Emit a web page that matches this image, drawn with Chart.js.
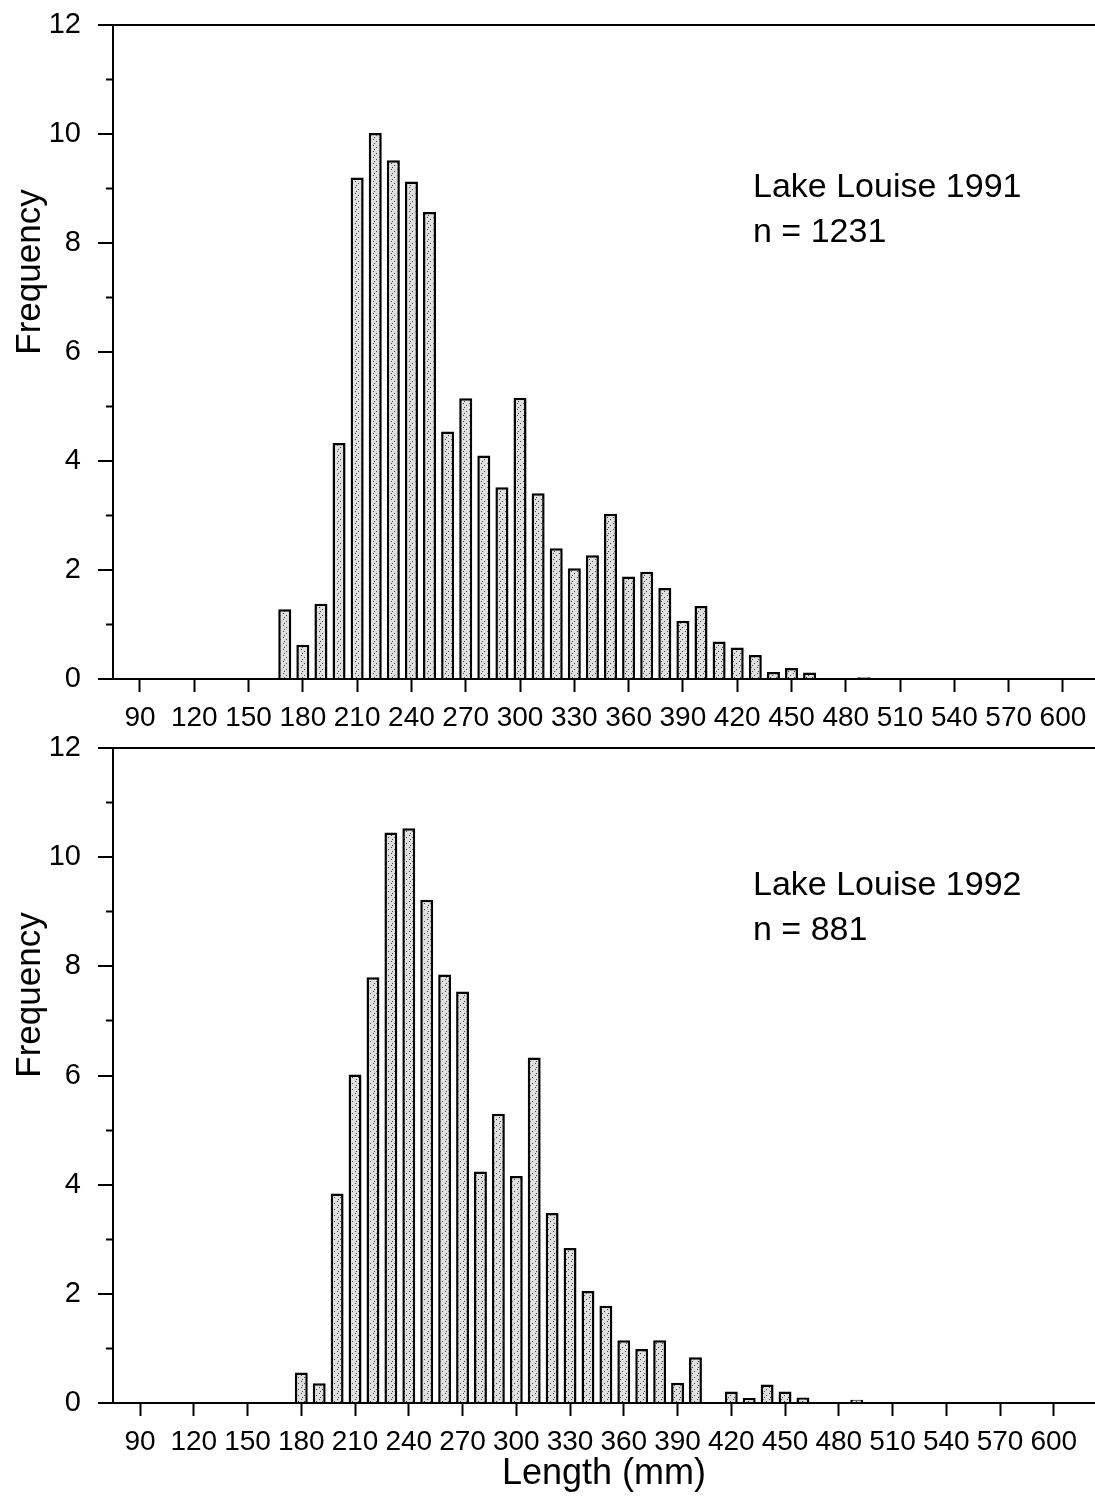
<!DOCTYPE html>
<html>
<head>
<meta charset="utf-8">
<script src="https://cdn.jsdelivr.net/npm/chart.js@4.4.1/dist/chart.umd.min.js"></script>
<style>
  body { margin: 0; background: #fff; }
  .panel { position: absolute; left: 0; }
  #top { top: 0; }
  #bottom { top: 720px; }
</style>
</head>
<body>
<div class="panel" id="top"><canvas id="chart1991" width="1095" height="740"></canvas></div>
<div class="panel" id="bottom"><canvas id="chart1992" width="1095" height="776"></canvas></div>
<script>
// length classes (mm), 10 mm bins
let lengthBins = [160, 170, 180, 190, 200, 210, 220, 230, 240, 250, 260, 270, 280, 290, 300, 310, 320,
  330, 340, 350, 360, 370, 380, 390, 400, 410, 420, 430, 440, 450, 460, 470, 480, 490];

let freq1991 = [0, 1.28, 0.63, 1.38, 4.33, 9.2, 10.02, 9.52, 9.13, 8.57, 4.54, 5.15, 4.1, 3.52, 5.16, 3.41, 2.4,
  2.03, 2.27, 3.03, 1.88, 1.97, 1.67, 1.07, 1.34, 0.69, 0.58, 0.44, 0.13, 0.2, 0.12, 0, 0, 0.03];

let freq1992 = [0.02, 0, 0.56, 0.36, 3.84, 6.02, 7.8, 10.45, 10.53, 9.22, 7.85, 7.54, 4.24, 5.3, 4.16, 6.33, 3.48,
  2.84, 2.05, 1.78, 1.15, 0.99, 1.15, 0.37, 0.84, 0, 0.21, 0.09, 0.34, 0.21, 0.1, 0, 0, 0.06];

let xTickValues = [90, 120, 150, 180, 210, 240, 270, 300, 330, 360, 390, 420, 450, 480, 510, 540, 570, 600];
let yTickValues = [0, 2, 4, 6, 8, 10, 12];

Chart.defaults.color = '#000';
Chart.defaults.font.family = '"Liberation Sans", Arial, Helvetica, sans-serif';

// stippled grey fill like the printed figure
let makeStipple = () => {
  const pc = document.createElement('canvas');
  pc.width = 6;
  pc.height = 6;
  const p = pc.getContext('2d');
  p.fillStyle = '#e0e0e0';
  p.fillRect(0, 0, 6, 6);
  p.fillStyle = '#444';
  p.fillRect(1, 1, 1, 1);
  p.fillRect(4, 3, 1, 1);
  p.fillRect(2, 5, 1, 1);
  return p.createPattern(pc, 'repeat');
};

// y title + panel label, placed relative to the chart area
let textPlugin = (label, n, labelTop) => ({
  id: 'panelText',
  afterDraw(chart) {
    const { ctx, chartArea } = chart;
    ctx.save();
    ctx.fillStyle = '#000';
    ctx.font = '35px "Liberation Sans", Arial, sans-serif';
    ctx.textAlign = 'center';
    ctx.textBaseline = 'middle';
    ctx.translate(30, chartArea.top + 247);
    ctx.rotate(-Math.PI / 2);
    ctx.fillText('Frequency', 0, 0);
    ctx.restore();

    ctx.save();
    ctx.fillStyle = '#000';
    ctx.font = '34px "Liberation Sans", Arial, sans-serif';
    ctx.textAlign = 'left';
    ctx.textBaseline = 'alphabetic';
    ctx.fillText(label, 753, chartArea.top + labelTop);
    ctx.fillText(n, 753, chartArea.top + labelTop + 45);
    ctx.restore();
  }
});

let noPad = (scale) => {
  scale.paddingTop = 0;
  scale.paddingBottom = 0;
  scale.paddingLeft = 0;
  scale.paddingRight = 0;
};

let createChart = (canvasId, values, opts) => {
  const ctx = document.getElementById(canvasId).getContext('2d');
  const points = lengthBins.map((b, i) => ({ x: b, y: values[i] }));

  return new Chart(ctx, {
    type: 'bar',
    data: {
      datasets: [{
        data: points,
        backgroundColor: makeStipple(),
        borderColor: '#000',
        borderWidth: 2.5,
        categoryPercentage: 1,
        barPercentage: 0.72,
        xAxisID: 'x',
        yAxisID: 'y',
      }],
    },
    options: {
      responsive: false,
      animation: false,
      layout: { padding: { top: opts.padTop, right: 0, left: 0, bottom: 0 } },
      plugins: { legend: { display: false }, tooltip: { enabled: false } },
      scales: {
        x: {
          type: 'linear',
          offset: false,
          min: opts.xMin,
          max: opts.xMax,
          afterBuildTicks: (scale) => { scale.ticks = xTickValues.map(v => ({ value: v })); },
          afterFit: (scale) => { scale.height = opts.xHeight; noPad(scale); },
          ticks: { font: { size: 28 }, padding: 9, maxRotation: 0, autoSkip: false },
          grid: { offset: false, drawOnChartArea: false, tickLength: 13, tickColor: '#000', tickWidth: 2 },
          border: { display: true, color: '#000', width: 2 },
          title: {
            display: opts.showTitle,
            text: 'Length (mm)',
            font: { size: 36 },
            padding: { top: 0, bottom: 0 },
          },
        },
        y: {
          min: 0,
          max: 12,
          weight: 1,
          afterBuildTicks: (scale) => { scale.ticks = yTickValues.map(v => ({ value: v })); },
          afterFit: (scale) => { scale.width = 113; noPad(scale); },
          ticks: { font: { size: 29 }, padding: 17 },
          grid: {
            drawOnChartArea: true,
            color: (c) => (c.tick && c.tick.value === 12 ? '#000' : 'rgba(0,0,0,0)'),
            lineWidth: 2,
            tickLength: 15,
            tickColor: '#000',
            tickWidth: 2,
          },
          border: { display: true, color: '#000', width: 2 },
        },
        // minor ticks at odd values
        yMinor: {
          position: 'left',
          min: 0,
          max: 12,
          weight: 0,
          afterBuildTicks: (scale) => {
            scale.ticks = [1, 3, 5, 7, 9, 11].map(v => ({ value: v }));
          },
          afterFit: (scale) => { scale.width = 0; noPad(scale); },
          ticks: { display: false },
          grid: { drawOnChartArea: false, tickLength: 7, tickColor: '#000', tickWidth: 2 },
          border: { display: false },
        },
      },
    },
    plugins: [textPlugin(opts.label, opts.n, opts.labelTop)],
  });
};

createChart('chart1991', freq1991, {
  padTop: 25, xMin: 75.1, xMax: 617.7, xHeight: 61, showTitle: false,
  label: 'Lake Louise 1991', n: 'n = 1231', labelTop: 172,
});

createChart('chart1992', freq1992, {
  padTop: 28, xMin: 74.9, xMax: 623, xHeight: 93, showTitle: true,
  label: 'Lake Louise 1992', n: 'n = 881', labelTop: 147,
});
</script>
</body>
</html>
